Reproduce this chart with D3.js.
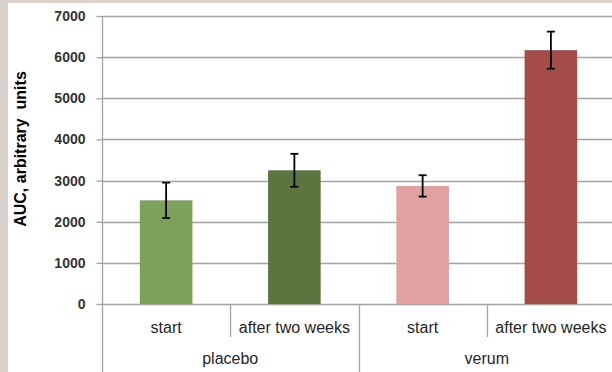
<!DOCTYPE html>
<html>
<head>
<meta charset="utf-8">
<script src="https://cdn.jsdelivr.net/npm/d3@7"></script>
<style>
  html, body { margin: 0; padding: 0; background: #d9d3cb; }
  svg { display: block; }
</style>
</head>
<body>
<div id="chart"></div>
<script>
// data
const groups = ["placebo", "verum"];
const phases = ["start", "after two weeks"];
const auc = [2520, 3250, 2870, 6170];
const aucErr = [430, 400, 260, 450];
const yTicks = [0, 1000, 2000, 3000, 4000, 5000, 6000, 7000];

const barColors = ["#7ca15b", "#5c753e", "#e0a1a0", "#a44c49"];

const width = 612, height = 372;
const marginLeft = 102, plotRight = 615, plotTop = 16, plotBottom = 304;

// one row per bar, built from the arrays above
const rows = [];
groups.forEach((g, gi) => phases.forEach((p, pi) => {
  const i = gi * phases.length + pi;
  rows.push({ key: g + "|" + p, group: g, phase: p, value: auc[i], err: aucErr[i], color: barColors[i] });
}));

const x = d3.scaleBand()
  .domain(rows.map(d => d.key))
  .range([marginLeft, plotRight])
  .padding(0);

const y = d3.scaleLinear()
  .domain([0, 7000])
  .range([plotBottom, plotTop]);

const barW = x.bandwidth() * 0.41;

const svg = d3.select("#chart").append("svg")
  .attr("width", width)
  .attr("height", height)
  .attr("viewBox", [0, 0, width, height]);

// beige frame + white panel
svg.append("rect").attr("width", width).attr("height", height).attr("fill", "#d9d3cb");
svg.append("rect").attr("x", 8).attr("y", 3).attr("width", width - 8).attr("height", height - 3).attr("fill", "#ffffff");

// gridlines
svg.append("g")
  .selectAll("line")
  .data(yTicks)
  .join("line")
    .attr("x1", marginLeft)
    .attr("x2", width)
    .attr("y1", d => Math.round(y(d)) + 0.5)
    .attr("y2", d => Math.round(y(d)) + 0.5)
    .attr("stroke", "#a3a3a3")
    .attr("stroke-width", 1.3);

// y axis
const yAxis = d3.axisLeft(y)
  .tickValues(yTicks)
  .tickFormat(d3.format("d"))
  .tickSize(6)
  .tickPadding(11);
svg.append("g")
  .attr("transform", `translate(${marginLeft + 0.5},0)`)
  .call(yAxis)
  .call(g => g.select(".domain").remove())
  .call(g => g.selectAll(".tick line").attr("stroke", "#a3a3a3").attr("stroke-width", 1.3))
  .call(g => g.selectAll(".tick text")
    .attr("fill", "#333")
    .attr("font-family", "'Liberation Sans', Arial, sans-serif")
    .attr("font-weight", "bold")
    .attr("font-size", 14));

svg.append("line")
  .attr("x1", marginLeft + 0.5).attr("x2", marginLeft + 0.5)
  .attr("y1", plotTop).attr("y2", height)
  .attr("stroke", "#a3a3a3")
  .attr("stroke-width", 1.3);

// y title
svg.append("text")
  .attr("transform", `translate(26,149) rotate(-90)`)
  .attr("text-anchor", "middle")
  .attr("font-family", "'Liberation Sans', Arial, sans-serif")
  .attr("font-weight", "bold")
  .attr("font-size", 16)
  .attr("fill", "#000")
  .style("white-space", "pre")
  .text("AUC, arbitrary  units");

// bars
svg.append("g")
  .selectAll("rect")
  .data(rows)
  .join("rect")
    .attr("x", d => x(d.key) + (x.bandwidth() - barW) / 2)
    .attr("y", d => y(d.value))
    .attr("width", barW)
    .attr("height", d => y(0) - y(d.value))
    .attr("fill", d => d.color);

// error bars
const errG = svg.append("g")
  .attr("stroke", "#000")
  .attr("stroke-width", 1.8);

rows.forEach(d => {
  const cx = x(d.key) + x.bandwidth() / 2;
  errG.append("line")
    .attr("x1", cx).attr("x2", cx)
    .attr("y1", y(d.value + d.err)).attr("y2", y(d.value - d.err));
  [d.value + d.err, d.value - d.err].forEach(v => {
    errG.append("line")
      .attr("x1", cx - 4).attr("x2", cx + 4)
      .attr("y1", y(v)).attr("y2", y(v));
  });
});

// category separators below the axis
const sep = svg.append("g")
  .attr("stroke", "#a3a3a3")
  .attr("stroke-width", 1.3);

rows.forEach((d, i) => {
  if (i === 0) return;
  const xs = Math.round(x(d.key)) + 0.5;
  const groupBoundary = i % phases.length === 0;
  sep.append("line")
    .attr("x1", xs).attr("x2", xs)
    .attr("y1", plotBottom).attr("y2", groupBoundary ? height : 337);
});

// phase labels
svg.append("g")
  .selectAll("text")
  .data(rows)
  .join("text")
    .attr("x", d => x(d.key) + x.bandwidth() / 2)
    .attr("y", 333)
    .attr("text-anchor", "middle")
    .attr("font-family", "'Liberation Sans', Arial, sans-serif")
    .attr("font-size", 16)
    .attr("fill", "#262626")
    .text(d => d.phase);

// group labels
svg.append("g")
  .selectAll("text")
  .data(groups)
  .join("text")
    .attr("x", g => {
      const ks = rows.filter(r => r.group === g).map(r => r.key);
      return (x(ks[0]) + x(ks[ks.length - 1]) + x.bandwidth()) / 2;
    })
    .attr("y", 364)
    .attr("text-anchor", "middle")
    .attr("font-family", "'Liberation Sans', Arial, sans-serif")
    .attr("font-size", 16)
    .attr("fill", "#262626")
    .text(g => g);
</script>
</body>
</html>
